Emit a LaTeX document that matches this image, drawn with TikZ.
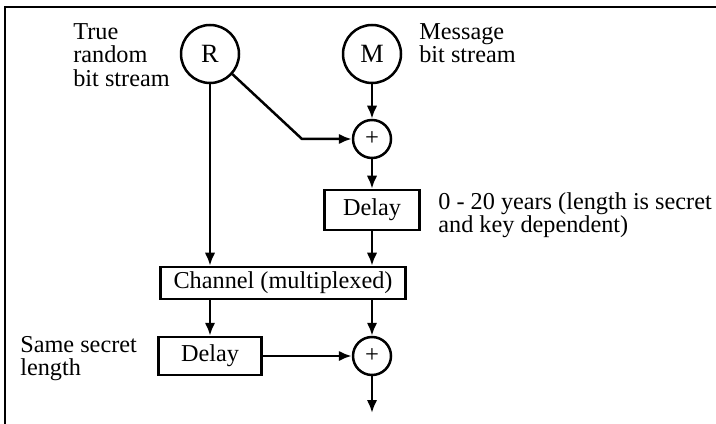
\documentclass[tikz,border=0pt]{standalone}
\usepackage{fontspec}
\setmainfont{Liberation Serif}
\usetikzlibrary{arrows.meta}

\tikzset{
    stream/.style = {draw, circle, line width = 0.5mm, minimum size = 11.6mm,
      inner sep = 0, font = \fontsize{15}{15}\selectfont},
    xorop/.style = {draw, circle, line width = 0.5mm, minimum size = 7.6mm,
      inner sep = 0, font = \fontsize{14}{14}\selectfont},
    delaybox/.style = {draw, rectangle, line width = 0.5mm, inner sep = 0},
    note/.style = {align = left, anchor = north west, inner sep = 0},
    flow/.style = {line width = 0.5mm, -{Latex[length = 2.6mm, width = 2.1mm]}},
}

\begin{document}
\begin{tikzpicture}[x = 0.2mm, y = -0.2mm, font = \fontsize{13.8}{13.4}\selectfont]
    \useasboundingbox (0, 0) rectangle (716, 424);

    \draw[line width = 0.45mm] (5, 424) -- (5, 7) -- (716, 7);

    \node[stream] (R) at (210, 54) {R};
    \node[stream] (M) at (372, 54) {M};
    \node[xorop] (xa) at (372, 139) {+};
    \node[delaybox, minimum width = 19mm, minimum height = 8mm]
      (da) at (372, 210) {Delay};
    \node[delaybox, minimum width = 49mm, minimum height = 6.4mm]
      (chan) at (283, 283) {Channel (multiplexed)};
    \node[delaybox, minimum width = 20.6mm, minimum height = 7.6mm]
      (db) at (210, 356) {Delay};
    \node[xorop] (xb) at (372, 356) {+};
    \coordinate (bend) at (302, 139);
    \coordinate (out) at (372, 413);

    \node[note] (rtext) at (73, 23) {True\\random\\bit stream};
    \node[note] (mtext) at (419, 23) {Message\\bit stream};
    \node[note] (datext) at (438, 192) {0 - 20 years (length is secret\\and key dependent)};
    \node[note] (dbtext) at (20, 336) {Same secret\\length};

    \draw[flow] (M) -- (xa);
    \draw[flow] (R.-42) -- (bend) -- (xa);
    \draw[flow] (xa) -- (da);
    \draw[flow] (R) -- (R |- chan.north);
    \draw[flow] (da) -- (da |- chan.north);
    \draw[flow] (chan.south -| db) -- (db);
    \draw[flow] (chan.south -| xb) -- (xb);
    \draw[flow] (db) -- (xb);
    \draw[flow] (xb) -- (out);
\end{tikzpicture}
\end{document}
